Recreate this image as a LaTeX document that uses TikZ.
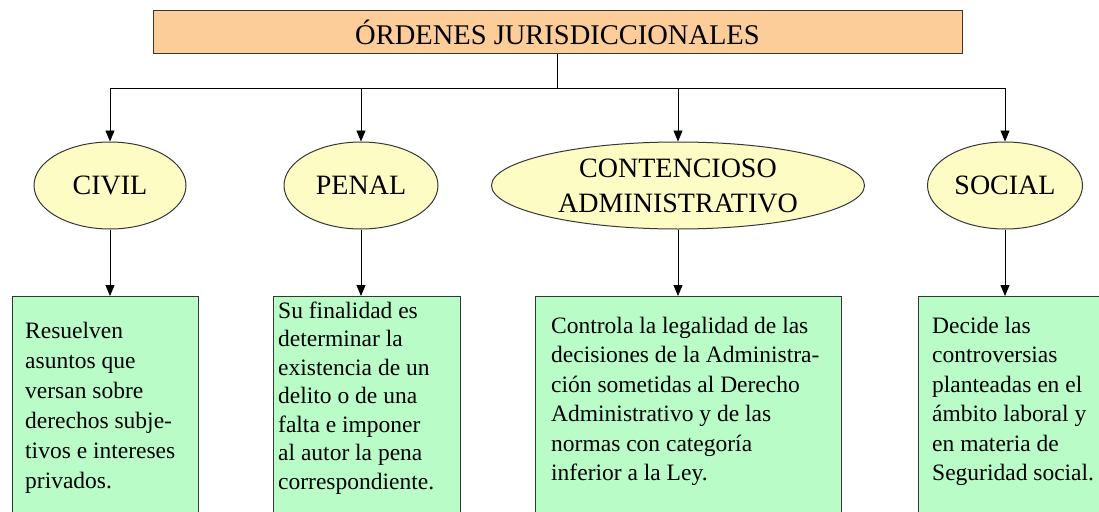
\documentclass[tikz,border=0pt]{standalone}
\usepackage{fontspec}
\setmainfont{Liberation Serif}
\usetikzlibrary{shapes.geometric,arrows.meta}
\definecolor{topfill}{RGB}{252,204,153}
\definecolor{ellfill}{RGB}{252,252,196}
\definecolor{boxfill}{RGB}{185,252,200}
\definecolor{edgecol}{RGB}{55,55,55}
\begin{document}
\begin{tikzpicture}[x=1pt,y=-1pt,
  titlebox/.style={draw=edgecol, line width=1pt, fill=topfill, minimum width=809pt, minimum height=43pt, inner sep=0pt, font=\fontsize{28.5}{32}\selectfont},
  oval/.style={ellipse, draw=edgecol, line width=1pt, fill=ellfill, inner sep=0pt, minimum height=87pt, font=\fontsize{28}{35}\selectfont, align=center},
  descbox/.style={draw=edgecol, line width=1pt, fill=boxfill, anchor=north west, inner sep=0pt},
  desc/.style={anchor=base west, inner sep=0pt},
  conn/.style={line width=0.9pt, draw=black},
  arr/.style={conn, -{Triangle[length=11pt,width=9pt]}}
]
\useasboundingbox (0,0) rectangle (1099,511);
\clip (0,0) rectangle (1099,511);
\node[titlebox] (title) at (557.5,32.5) {ÓRDENES JURISDICCIONALES};
\node[oval, minimum width=152pt] (civil) at (110,185.5) {CIVIL};
\node[oval, minimum width=154pt] (penal) at (361,185.5) {PENAL};
\node[oval, minimum width=373pt] (cont) at (678,185.5) {CONTENCIOSO\\ADMINISTRATIVO};
\node[oval, minimum width=155pt] (social) at (1005,185.5) {SOCIAL};
\coordinate (hl) at (110,88);
\coordinate (hr) at (1005,88);
\draw[conn] (title.south) -- (title.south |- hl);
\draw[conn] (hl) -- (hr);
\draw[arr] (civil.north |- hl) -- (civil.north);
\draw[arr] (penal.north |- hl) -- (penal.north);
\draw[arr] (cont.north |- hl) -- (cont.north);
\draw[arr] (social.north |- hl) -- (social.north);
\node[descbox, minimum width=186pt, minimum height=240pt] (cbox) at (12,296) {};
\node[descbox, minimum width=187pt, minimum height=240pt] (pbox) at (273,296) {};
\node[descbox, minimum width=306pt, minimum height=240pt] (kbox) at (535,296) {};
\node[descbox, minimum width=200pt, minimum height=240pt] (sbox) at (918,296) {};
\draw[arr] (civil.south) -- (civil.south |- cbox.north);
\draw[arr] (penal.south) -- (penal.south |- pbox.north);
\draw[arr] (cont.south) -- (cont.south |- kbox.north);
\draw[arr] (social.south) -- (social.south |- sbox.north);
\node[desc] (ctext) at (25,338) {\parbox[t]{180pt}{\fontsize{23.5}{30}\selectfont\raggedright Resuelven\\asuntos que\\versan sobre\\derechos subje-\\tivos e intereses\\privados.}};
\node[desc] (ptext) at (278,318) {\parbox[t]{185pt}{\fontsize{23.5}{28.5}\selectfont\raggedright Su finalidad es\\determinar la\\existencia de un\\delito o de una\\falta e imponer\\al autor la pena\\correspondiente.}};
\node[desc] (ktext) at (551,333) {\parbox[t]{300pt}{\fontsize{23.5}{29.5}\selectfont\raggedright Controla la legalidad de las\\decisiones de la Administra-\\ción sometidas al Derecho\\Administrativo y de las\\normas con categoría\\inferior a la Ley.}};
\node[desc] (stext) at (932,333) {\parbox[t]{180pt}{\fontsize{23.5}{29.5}\selectfont\raggedright Decide las\\controversias\\planteadas en el\\ámbito laboral y\\en materia de\\Seguridad social.}};
\end{tikzpicture}
\end{document}
